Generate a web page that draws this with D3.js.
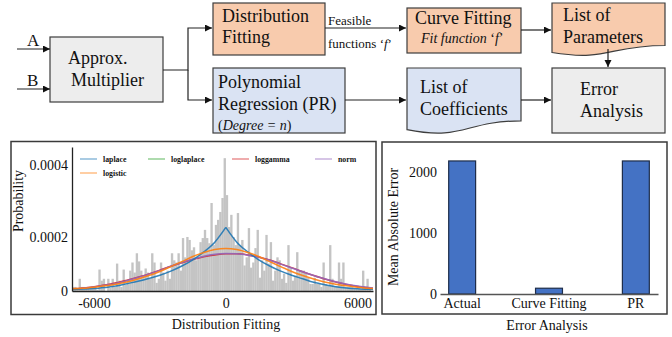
<!DOCTYPE html>
<html>
<head>
<meta charset="utf-8">
<script src="https://cdn.jsdelivr.net/npm/d3@7"></script>
<style>
  body { margin: 0; background: #fff; }
  text { font-family: "Liberation Serif", serif; fill: #111; }
</style>
</head>
<body>
<svg id="fig" width="672" height="337"></svg>
<script>
// ---------- data ----------
// histogram: bins of 100 starting at -7000, density in units of 1e-6
const binStart = -7000;
const binWidth = 100;
const histValues = [
  15, 15, 8, 45, 15, 15, 15, 11, 15, 15,
  15, 4, 79, 38, 45, 0, 45, 11, 45, 15,
  101, 38, 15, 79, 23, 38, 75, 105, 68, 139,
  109, 75, 56, 83, 68, 45, 139, 105, 30, 45,
  105, 68, 38, 75, 45, 139, 113, 105, 139, 75,
  195, 124, 199, 188, 150, 161, 113, 124, 180, 195,
  219, 195, 176, 294, 169, 233, 247, 269, 308, 419,
  316, 227, 261, 199, 169, 266, 169, 188, 94, 124,
  224, 86, 105, 158, 219, 49, 113, 75, 205, 101,
  180, 38, 75, 124, 113, 45, 64, 30, 169, 86,
  38, 56, 143, 75, 75, 75, 64, 49, 26, 26,
  49, 26, 26, 15, 105, 26, 19, 169, 45, 19,
  19, 105, 45, 105, 15, 15, 15, 15, 8, 8,
  8, 8, 75, 11, 45, 8, 0
];

// fitted curves read at these x values (density in units of 1e-6)
const curveX = [-7000, -6500, -6000, -5500, -5000, -4500, -4000, -3500, -3000, -2500, -2000, -1500, -1000, -500,
  0, 500, 1000, 1500, 2000, 2500, 3000, 3500, 4000, 4500, 5000, 5500, 6000, 6500, 7000];
const laplaceValues = [5, 7, 9, 13, 18, 27, 36, 46, 58, 73, 92, 115, 144, 180,
  226, 180, 144, 115, 92, 73, 58, 45, 32, 23, 16, 11, 8, 6, 4];
const loggammaValues = [8, 11, 16, 22, 30, 40, 51, 63, 77, 91, 104, 116, 126, 133,
  137, 137, 133, 125, 114, 100, 86, 71, 57, 44, 33, 24, 17, 12, 8];
const normValues = [7, 10, 15, 21, 28, 38, 50, 62, 76, 91, 105, 117, 128, 135,
  138, 137, 132, 124, 113, 99, 85, 71, 57, 45, 34, 25, 18, 13, 8];
const logisticValues = [8, 10, 14, 19, 25, 33, 44, 57, 72, 90, 108, 127, 142, 153,
  157, 153, 142, 127, 108, 90, 72, 57, 44, 33, 25, 19, 14, 10, 8];
const loglaplaceValues = []; // not visible in the figure, legend only

const distNames = ['laplace', 'loglaplace', 'loggamma', 'norm', 'logistic'];
const distTicksX = [-6000, 0, 6000];
const distTicksY = [0, 0.0002, 0.0004];

// error analysis
const methods = ['Actual', 'Curve Fitting', 'PR'];
const maeValues = [2190, 95, 2190];
const maeTicks = [0, 1000, 2000];

// ---------- setup ----------
const svg = d3.select('#fig');
svg.append('rect').attr('width', 672).attr('height', 337).attr('fill', '#fff');

const PEACH = '#f8cbad';
const BLUE = '#dae3f3';
const GREY = '#ededed';
const EDGE = '#3d3d3d';

svg.append('defs').append('marker')
  .attr('id', 'arrow')
  .attr('markerUnits', 'userSpaceOnUse')
  .attr('markerWidth', 8).attr('markerHeight', 8)
  .attr('refX', 7).attr('refY', 3.5)
  .attr('orient', 'auto')
  .append('path').attr('d', 'M0,0L7,3.5L0,7Z').attr('fill', '#111');

// ---------- flow chart ----------
// document shape like the office "flowChartDocument"
function docPath(x, y, w, h) {
  return `M${x},${y}H${x + w}V${y + 0.802 * h}` +
    `C${x + 0.5 * w},${y + 0.802 * h} ${x + 0.5 * w},${y + 1.1075 * h} ${x},${y + 0.934 * h}Z`;
}

const flowBoxes = [
  { x: 50, y: 37, w: 113, h: 65, fill: GREY, doc: false,
    lines: [{ x: 68, y: 64, parts: [['Approx.']] }, { x: 71, y: 86, parts: [['Multiplier']] }] },
  { x: 213, y: 3, w: 112, h: 52, fill: PEACH, doc: false,
    lines: [{ x: 222, y: 22, parts: [['Distribution']] }, { x: 222, y: 43, parts: [['Fitting']] }] },
  { x: 407, y: 8, w: 114, h: 45, fill: PEACH, doc: false,
    lines: [{ x: 415, y: 24, parts: [['Curve Fitting']] },
      { x: 421, y: 43, size: 14, parts: [['Fit function ', true], ['‘', false], ['f', true], ['’', false]] }] },
  { x: 552, y: 3, w: 113, h: 53, fill: PEACH, doc: true,
    lines: [{ x: 563, y: 21, parts: [['List of']] }, { x: 563, y: 43, parts: [['Parameters']] }] },
  { x: 213, y: 68, w: 132, h: 65, fill: BLUE, doc: false,
    lines: [{ x: 218, y: 88, parts: [['Polynomial']] }, { x: 218, y: 110, parts: [['Regression (PR)']] },
      { x: 218, y: 130, size: 14, parts: [['(', false], ['Degree = n', true], [')', false]] }] },
  { x: 407, y: 68, w: 114, h: 66, fill: BLUE, doc: true,
    lines: [{ x: 420, y: 93, parts: [['List of']] }, { x: 420, y: 115, parts: [['Coefficients']] }] },
  { x: 552, y: 68, w: 113, h: 65, fill: GREY, doc: false,
    lines: [{ x: 580, y: 95, parts: [['Error']] }, { x: 580, y: 117, parts: [['Analysis']] }] }
];

const flow = svg.append('g');
flowBoxes.forEach(b => {
  if (b.doc) {
    flow.append('path').attr('d', docPath(b.x, b.y, b.w, b.h))
      .attr('fill', b.fill).attr('stroke', EDGE).attr('stroke-width', 1.2);
  } else {
    flow.append('rect').attr('x', b.x).attr('y', b.y).attr('width', b.w).attr('height', b.h)
      .attr('fill', b.fill).attr('stroke', EDGE).attr('stroke-width', 1.2);
  }
  b.lines.forEach(l => {
    const t = flow.append('text').attr('x', l.x).attr('y', l.y)
      .attr('font-size', l.size || 18);
    l.parts.forEach(p => {
      t.append('tspan').attr('font-style', p[1] ? 'italic' : 'normal').text(p[0]);
    });
  });
});

const flowLinks = [
  [[17, 49], [50, 49]],
  [[17, 89], [50, 89]],
  [[163, 70], [188, 70], [188, 28], [212, 28]],
  [[188, 70], [188, 100], [212, 100]],
  [[325, 28], [406, 28]],
  [[521, 30], [551, 30]],
  [[608, 49], [608, 67]],
  [[345, 100], [406, 100]],
  [[521, 100], [551, 100]]
];
flowLinks.forEach(pts => {
  flow.append('path').attr('d', d3.line()(pts))
    .attr('fill', 'none').attr('stroke', '#222').attr('stroke-width', 1.2)
    .attr('marker-end', 'url(#arrow)');
});
flow.append('text').attr('x', 27).attr('y', 46).attr('font-size', 17).text('A');
flow.append('text').attr('x', 27).attr('y', 86).attr('font-size', 17).text('B');

const feas = flow.append('g');
feas.append('text').attr('x', 328).attr('y', 25).attr('font-size', 13).text('Feasible');
const fn = feas.append('text').attr('x', 328).attr('y', 48).attr('font-size', 13);
fn.append('tspan').text('functions ‘');
fn.append('tspan').attr('font-style', 'italic').text('f');
fn.append('tspan').text('’');

// ---------- panel frames ----------
svg.append('rect').attr('x', 11).attr('y', 141.5).attr('width', 365).attr('height', 173)
  .attr('fill', 'none').attr('stroke', '#3a3a3a').attr('stroke-width', 1.5);
svg.append('rect').attr('x', 382).attr('y', 142).attr('width', 285).attr('height', 172)
  .attr('fill', 'none').attr('stroke', '#3a3a3a').attr('stroke-width', 1.5);

// ---------- distribution fitting ----------
const dx = d3.scaleLinear().domain([-7000, 6700]).range([72, 373]);
const dy = d3.scaleLinear().domain([0, 0.0002, 0.0004, 0.00045]).range([291, 236.7, 165, 147]);

const dist = svg.append('g');
dist.append('clipPath').attr('id', 'plotclip')
  .append('rect').attr('x', 72).attr('y', 140).attr('width', 301).attr('height', 151);

dist.append('g').selectAll('rect')
  .data(histValues)
  .join('rect')
  .attr('x', (d, i) => dx(binStart + i * binWidth))
  .attr('width', (d, i) => dx(binStart + (i + 1) * binWidth) - dx(binStart + i * binWidth) + 0.15)
  .attr('y', d => dy(d * 1e-6))
  .attr('height', d => dy(0) - dy(d * 1e-6))
  .attr('fill', '#c4c4c4');

const distColor = d3.scaleOrdinal()
  .domain(distNames)
  .range(['#1f77b4', '#2ca02c', '#d62728', '#9467bd', '#ff7f0e']);

const curveLine = d3.line()
  .x(d => dx(d[0]))
  .y(d => dy(d[1] * 1e-6))
  .curve(d3.curveMonotoneX);

function drawCurve(values, name, splitAtPeak) {
  if (!values.length) return;
  const pts = curveX.map((xv, i) => [xv, values[i]]);
  const pieces = splitAtPeak ? [pts.slice(0, 15), pts.slice(14)] : [pts];
  pieces.forEach(p => {
    dist.append('path').attr('d', curveLine(p))
      .attr('clip-path', 'url(#plotclip)')
      .attr('fill', 'none').attr('stroke', distColor(name))
      .attr('stroke-width', 1.5).attr('stroke-opacity', 0.9);
  });
}
drawCurve(loglaplaceValues, 'loglaplace', false);
drawCurve(loggammaValues, 'loggamma', false);
drawCurve(normValues, 'norm', false);
drawCurve(laplaceValues, 'laplace', true);
drawCurve(logisticValues, 'logistic', false);

dist.append('g').attr('transform', 'translate(72,0)')
  .call(d3.axisLeft(dy).tickValues(distTicksY).tickSize(0).tickSizeOuter(0).tickPadding(4)
    .tickFormat(d => d === 0 ? '0' : d.toFixed(4)))
  .call(g => g.select('.domain').attr('stroke', '#222').attr('stroke-width', 1.3))
  .call(g => g.selectAll('text').attr('font-size', 14).attr('font-family', '"Liberation Serif", serif').attr('fill', '#111'));

dist.append('g').attr('transform', 'translate(0,291)')
  .call(d3.axisBottom(dx).tickValues(distTicksX).tickSize(0).tickSizeOuter(0).tickPadding(7)
    .tickFormat(d => String(d)))
  .call(g => g.select('.domain').attr('stroke', '#222').attr('stroke-width', 1.3))
  .call(g => g.selectAll('text').attr('font-size', 14).attr('font-family', '"Liberation Serif", serif').attr('fill', '#111'));

dist.append('text').attr('transform', 'translate(23,201) rotate(-90)')
  .attr('text-anchor', 'middle').attr('font-size', 14).text('Probability');
dist.append('text').attr('x', 226).attr('y', 329)
  .attr('text-anchor', 'middle').attr('font-size', 14).text('Distribution Fitting');

// legend: four columns, logistic wraps to second row
const legendSlots = [[80, 159], [148, 159], [232, 159], [315, 159], [80, 173]];
const legend = dist.append('g');
distNames.forEach((name, i) => {
  const [lx, ly] = legendSlots[i];
  legend.append('line').attr('x1', lx).attr('x2', lx + 17).attr('y1', ly).attr('y2', ly)
    .attr('stroke', distColor(name)).attr('stroke-opacity', 0.55).attr('stroke-width', 1.4);
  legend.append('text').attr('x', lx + 23).attr('y', ly).attr('dy', '0.35em')
    .attr('font-family', '"DejaVu Sans", sans-serif').attr('font-weight', 'bold')
    .attr('font-size', 7.8).attr('fill', '#000').text(name);
});

// ---------- error analysis ----------
const ex = d3.scaleBand().domain(methods).range([440, 658]).paddingInner(0.69).paddingOuter(0.1);
const ey = d3.scaleLinear().domain([0, 2000]).range([294, 172.5]);

const err = svg.append('g');
err.append('g').selectAll('rect')
  .data(maeValues)
  .join('rect')
  .attr('x', (d, i) => ex(methods[i]))
  .attr('width', ex.bandwidth())
  .attr('y', d => ey(d))
  .attr('height', d => ey(0) - ey(d))
  .attr('fill', '#4472c4').attr('stroke', '#1e2d4a').attr('stroke-width', 1.2);

err.append('g').attr('transform', 'translate(0,294)')
  .call(d3.axisBottom(ex).tickSize(0).tickSizeOuter(0).tickPadding(4))
  .call(g => g.select('.domain').attr('stroke', '#555').attr('stroke-width', 1.5))
  .call(g => g.selectAll('text').attr('font-size', 14).attr('font-family', '"Liberation Serif", serif').attr('fill', '#111'));

err.append('g').attr('transform', 'translate(440,0)')
  .call(d3.axisLeft(ey).tickValues(maeTicks).tickSize(0).tickPadding(3).tickFormat(d3.format('d')))
  .call(g => g.select('.domain').remove())
  .call(g => g.selectAll('text').attr('font-size', 14).attr('font-family', '"Liberation Serif", serif').attr('fill', '#111'));

err.append('text').attr('transform', 'translate(398,227) rotate(-90)')
  .attr('text-anchor', 'middle').attr('font-size', 14).text('Mean Absolute Error');
err.append('text').attr('x', 547).attr('y', 330)
  .attr('text-anchor', 'middle').attr('font-size', 14).text('Error Analysis');
</script>
</body>
</html>
